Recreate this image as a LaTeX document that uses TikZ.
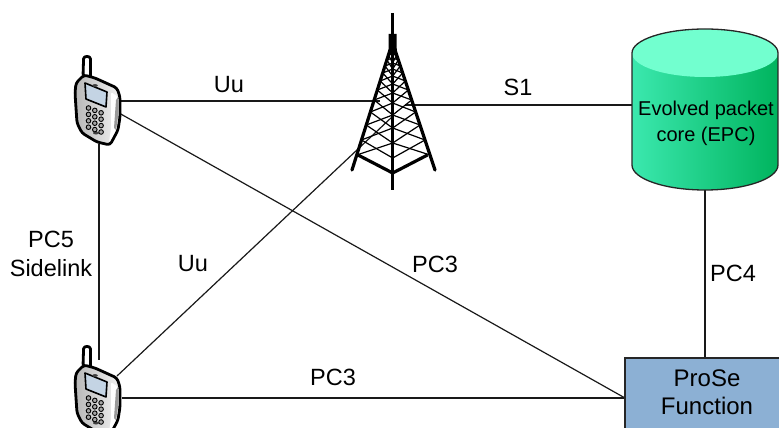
\documentclass[tikz,border=0pt]{standalone}
\usepackage{fontspec}
\setmainfont{Liberation Sans}
\definecolor{epcl}{HTML}{3BE8AE}
\definecolor{epcm}{HTML}{00E6A6}
\definecolor{epcr}{HTML}{00B45E}
\definecolor{epct}{HTML}{72FFCF}
\definecolor{pfbox}{HTML}{8CB0D4}
\definecolor{scr}{HTML}{C4D4E4}
\begin{document}
\begin{tikzpicture}[x=1pt,y=-1pt,
  link/.style={draw=black!90,line width=1.2pt},
  lab/.style={inner sep=0pt,font=\fontsize{23.5}{29}\selectfont,align=center,text=black},
  labsmall/.style={inner sep=0pt,font=\fontsize{20}{26}\selectfont,align=center,text=black},
  leg/.style={line width=3.2pt,line cap=round},
  lat/.style={line width=1.2pt}]
\newcommand{\phonepic}[1]{%
 \begin{scope}[shift={(0,#1)}]
  \filldraw[fill=white,draw=black,line width=2.8pt,line join=round,rounded corners=2pt]
    (83,76)--(83.5,61) .. controls (83.5,55.5) and (90.5,55.5) .. (90.5,61)--(90.5,78)--cycle;
  \path[left color=black!28,right color=black!5,draw=black,line width=2.8pt,line join=round,rounded corners=3pt]
    (76,83)--(84,75)--(95,78)--(117,88)--(120,97)--(120,117)--(118,130)--(110,145)--(97,142)--(82,133)--(77,123)--(75,93)--cycle;
  \fill[white,rounded corners=2pt] (111,92)--(118,97)--(118,117)--(116,130)--(109,143)--(111,128)--cycle;
  \fill[black!40] (118,97)--(118,117)--(116,130)--(114,128)--(116,100)--cycle;
  \filldraw[fill=scr,draw=black,line width=1.6pt,line join=round]
    (85,83)--(107,92)--(106,107)--(86,99)--cycle;
  \fill[black!75] (95,85.5) ellipse[x radius=2.8,y radius=1.4];
  \fill[black!75] (96,133) ellipse[x radius=3,y radius=1.5];
  \foreach \cc in {0,1,2}{\foreach \rr in {0,1,2,3}{
    \filldraw[fill=black!35,draw=black,line width=.9pt] ({88.5+\cc*6.3},{108+\rr*6.4+\cc*2.4}) circle[radius=2.3];}}
 \end{scope}}
% named anchor points
\coordinate (p1r) at (120,101);
\coordinate (p1d) at (99,144);
\coordinate (p1x) at (119,113);
\coordinate (twl) at (380,101);
\coordinate (twr) at (405,105);
\coordinate (twx) at (392,117);
\coordinate (p2t) at (99,360);
\coordinate (p2x) at (117,376);
\coordinate (p2r) at (122,398);
\coordinate (epcw) at (632,105);
\coordinate (epcb) at (705,190);
\coordinate (pft) at (705,358);
\coordinate (pfl) at (625,398);
\useasboundingbox (0,0) rectangle (779,428);
\begin{scope}
\clip (0,0) rectangle (779,428);
% connectors
\draw[link] (p1r)--(twl);
\draw[link] (twr)--(epcw);
\draw[link] (p1d)--(p2t);
\draw[link] (p1x)--(pfl);
\draw[link] (p2x)--(twx);
\draw[link] (p2r)--(pfl);
\draw[link] (epcb)--(pft);
% tower
\draw[line width=2.8pt] (392.7,13)--(392.7,50);
\fill (388.5,34)--(396.5,34)--(396.8,52)--(388.5,52)--cycle;
\draw[line width=3.4pt] (392.7,50)--(392.7,190);
\draw[leg] (390,50)--(352,170);
\draw[leg] (395,50)--(435,170);
\draw[line width=3.2pt,line join=round] (358,155)--(392.7,173)--(427.5,155);
\def\lv{{155,140,125,112,100,90,81,73,66,60,55,51}}
\foreach \i in {0,...,10}{
  \pgfmathsetmacro{\ya}{\lv[\i]}
  \pgfmathtruncatemacro{\j}{\i+1}
  \pgfmathsetmacro{\yb}{\lv[\j]}
  \pgfmathsetmacro{\lxa}{390-(\ya-50)*38/120}
  \pgfmathsetmacro{\rxa}{395+(\ya-50)*40/120}
  \pgfmathsetmacro{\lxb}{390-(\yb-50)*38/120}
  \pgfmathsetmacro{\rxb}{395+(\yb-50)*40/120}
  \draw[lat] (\lxb,\yb)--(392.7,{\ya+3});
  \draw[lat] (\rxb,\yb)--(392.7,{\ya+3});
  \draw[lat] (\lxa,\ya)--(392.7,{\yb+3});
  \draw[lat] (\rxa,\ya)--(392.7,{\yb+3});
}
% EPC cylinder
\path[left color=epcl,middle color=epcm,right color=epcr]
  (632,53)--(632,165) arc[start angle=180,end angle=0,x radius=73,y radius=25]--(778,53)
  arc[start angle=0,end angle=-180,x radius=73,y radius=24]--cycle;
\fill[epct] (705,53) ellipse[x radius=73,y radius=24];
\draw[black!85,line width=1.3pt] (632,53)--(632,165) arc[start angle=180,end angle=0,x radius=73,y radius=25]--(778,53)
  arc[start angle=0,end angle=-180,x radius=73,y radius=24]--cycle;
\node[labsmall] (epc) at (706,123.5) {Evolved packet\\core (EPC)};
% ProSe function box
\filldraw[fill=pfbox,draw=black!85,line width=1.3pt] (625,358) rectangle (790,440);
\node[lab,font=\fontsize{24}{28}\selectfont] (pf) at (707,392) {ProSe\\Function};
\phonepic{0}
\phonepic{290}
\end{scope}
\node[lab] (uua) at (229,85) {Uu};
\node[lab] (s1) at (518,87) {S1};
\node[lab] (pc5) at (51,254) {PC5\\Sidelink};
\node[lab] (uub) at (193,264) {Uu};
\node[lab] (pc3a) at (435,264) {PC3};
\node[lab] (pc4) at (733,273) {PC4};
\node[lab] (pc3b) at (333,377) {PC3};
\end{tikzpicture}
\end{document}
